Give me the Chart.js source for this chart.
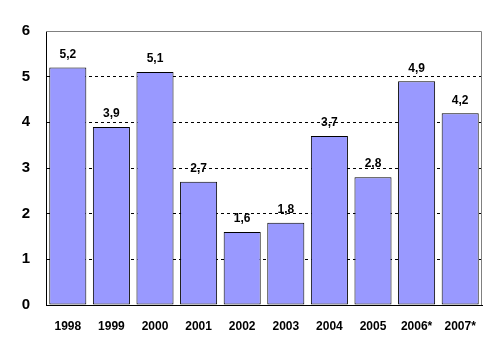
<!DOCTYPE html>
<html>
<head>
<meta charset="utf-8">
<script src="https://cdn.jsdelivr.net/npm/chart.js@4.4.0/dist/chart.umd.min.js"></script>
<style>
  html, body { margin: 0; padding: 0; background: #fff; }
  #wrap { width: 495px; height: 349px; }
</style>
</head>
<body>
<div id="wrap"><canvas id="grafico" width="495" height="349"></canvas></div>
<script>
const anios = ['1998', '1999', '2000', '2001', '2002', '2003', '2004', '2005', '2006*', '2007*'];
const valores = [5.2, 3.9, 5.1, 2.7, 1.6, 1.8, 3.7, 2.8, 4.9, 4.2];

const fuente = '"Liberation Sans", Arial, sans-serif';

// etiquetas de valor encima de cada barra, con coma decimal
const etiquetasValor = {
  id: 'etiquetasValor',
  afterDatasetsDraw(chart) {
    const ctx = chart.ctx;
    const meta = chart.getDatasetMeta(0);
    ctx.save();
    ctx.font = 'bold 12px ' + fuente;
    ctx.fillStyle = '#000';
    ctx.textAlign = 'center';
    ctx.textBaseline = 'middle';
    meta.data.forEach((bar, i) => {
      ctx.fillText(valores[i].toFixed(1).replace('.', ','), bar.x, bar.y - 13);
    });
    ctx.restore();
  }
};

// borde gris arriba y a la derecha del area de trazado
const bordeArea = {
  id: 'bordeArea',
  beforeDatasetsDraw(chart) {
    const a = chart.chartArea;
    const ctx = chart.ctx;
    ctx.save();
    ctx.strokeStyle = '#808080';
    ctx.lineWidth = 1;
    ctx.beginPath();
    ctx.moveTo(a.left, a.top + 0.5);
    ctx.lineTo(a.right - 0.5, a.top + 0.5);
    ctx.lineTo(a.right - 0.5, a.bottom);
    ctx.stroke();
    ctx.restore();
  }
};

new Chart(document.getElementById('grafico'), {
  type: 'bar',
  data: {
    labels: anios,
    datasets: [{
      data: valores,
      backgroundColor: '#9999FF',
      borderColor: '#000',
      borderWidth: 1,
      borderSkipped: false,
      barPercentage: 0.85,
      categoryPercentage: 1
    }]
  },
  options: {
    responsive: false,
    animation: false,
    layout: { padding: { top: 31, right: 13, left: 0, bottom: 0 } },
    plugins: { legend: { display: false }, tooltip: { enabled: false } },
    scales: {
      x: {
        afterFit(s) { s.height = 44; },
        grid: { display: false, drawTicks: false },
        border: { color: '#000', width: 1 },
        ticks: {
          color: '#000',
          padding: 14,
          font: { family: fuente, size: 12, weight: 'bold' }
        }
      },
      y: {
        min: 0,
        max: 6,
        afterFit(s) { s.width = 46; },
        // border.dash se aplica a las lineas de division
        border: { color: '#000', width: 1, dash: [3, 3] },
        grid: {
          drawTicks: false,
          color: ctx => (ctx.tick.value === 0 || ctx.tick.value === 6) ? 'rgba(0,0,0,0)' : '#000',
          lineWidth: 1
        },
        ticks: {
          stepSize: 1,
          color: '#000',
          padding: 16,
          font: { family: fuente, size: 15, weight: 'bold' }
        }
      }
    }
  },
  plugins: [etiquetasValor, bordeArea]
});
</script>
</body>
</html>
